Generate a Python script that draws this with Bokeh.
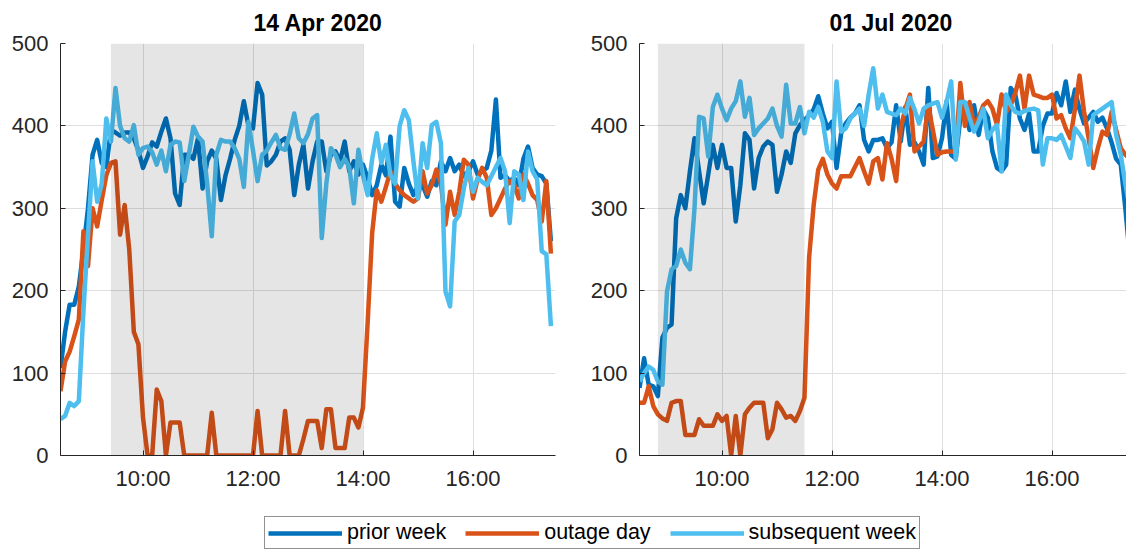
from bokeh.plotting import figure
from bokeh.layouts import column, row
from bokeh.models import FixedTicker, Range1d, Legend, LegendItem, BoxAnnotation
from bokeh.embed import file_html
from bokeh.resources import INLINE

# ---------------- data (5-minute samples from 08:30) ----------------
start_hour = 8.5
step_minutes = 5

apr_prior = [106, 150, 183, 183, 205, 250, 300, 365, 383, 355,
             350, 395, 392, 388, 392, 392, 385, 370, 349, 363,
             380, 375, 393, 409, 385, 318, 304, 365, 365, 360,
             385, 324, 357, 370, 360, 310, 340, 360, 383, 400,
             430, 400, 397, 452, 438, 352, 357, 365, 381, 385,
             371, 316, 353, 377, 324, 357, 381, 381, 345, 365,
             369, 357, 381, 345, 357, 341, 353, 337, 316, 328,
             353, 340, 387, 308, 302, 349, 330, 316, 328, 328,
             314, 333, 328, 357, 345, 361, 345, 353, 339, 345,
             357, 341, 345, 349, 370, 432, 337, 340, 333, 337,
             328, 360, 375, 349, 341, 339, 330, 260]
apr_outage = [78, 114, 126, 145, 165, 272, 230, 300, 278, 310,
              340, 355, 357, 268, 304, 250, 150, 135, 46, 0,
              0, 80, 66, 0, 40, 40, 40, 0, 0, 0,
              0, 0, 0, 52, 0, 0, 0, 0, 0, 0,
              0, 0, 0, 54, 0, 0, 0, 0, 0, 54,
              0, 0, 0, 20, 42, 42, 42, 9, 56, 56,
              9, 9, 9, 46, 46, 34, 58, 160, 270, 322,
              308, 326, 345, 330, 322, 316, 312, 308, 312, 345,
              318, 328, 347, 330, 280, 320, 292, 320, 359, 353,
              312, 335, 349, 337, 292, 300, 312, 324, 333, 328,
              312, 341, 330, 316, 310, 284, 333, 245]
apr_subseq = [44, 48, 64, 60, 66, 175, 268, 357, 308, 330,
              409, 381, 446, 400, 385, 381, 401, 365, 373, 375,
              368, 353, 370, 345, 377, 381, 380, 333, 365, 399,
              387, 381, 330, 266, 365, 383, 381, 381, 373, 360,
              326, 405, 370, 333, 365, 370, 380, 389, 373, 371,
              390, 415, 385, 379, 390, 409, 413, 264, 330, 373,
              365, 350, 360, 350, 306, 371, 340, 316, 360, 391,
              355, 377, 340, 330, 400, 419, 407, 357, 312, 379,
              349, 401, 405, 379, 199, 181, 284, 292, 324, 349,
              320, 337, 332, 328, 339, 350, 361, 345, 282, 345,
              341, 310, 369, 345, 335, 248, 244, 157]

jul_prior = [82, 118, 86, 84, 72, 143, 155, 159, 288, 316,
             300, 345, 385, 345, 306, 341, 377, 349, 377, 349,
             349, 284, 328, 391, 383, 324, 361, 375, 381, 377,
             320, 341, 369, 355, 391, 401, 407, 413, 420, 436,
             415, 397, 405, 349, 391, 403, 410, 415, 425, 383,
             369, 383, 383, 385, 373, 380, 425, 381, 423, 377,
             380, 369, 353, 446, 361, 363, 385, 430, 365, 360,
             410, 420, 395, 425, 389, 420, 410, 369, 349, 345,
             353, 446, 438, 409, 395, 415, 369, 369, 400, 415,
             415, 440, 425, 454, 417, 444, 420, 403, 410, 417,
             405, 410, 397, 380, 360, 353, 300, 240]
jul_outage = [64, 64, 84, 60, 50, 45, 42, 64, 66, 66,
              25, 25, 25, 44, 36, 36, 36, 50, 42, 48,
              0, 48, 0, 50, 58, 64, 64, 64, 21, 32,
              64, 56, 46, 48, 42, 54, 70, 240, 304, 347,
              360, 341, 330, 324, 339, 339, 339, 350, 361, 345,
              330, 357, 361, 335, 379, 360, 333, 397, 421, 438,
              369, 375, 381, 425, 395, 365, 368, 369, 369, 369,
              452, 400, 429, 400, 410, 425, 430, 421, 401, 438,
              417, 425, 440, 461, 421, 461, 438, 436, 434, 434,
              438, 409, 413, 397, 385, 420, 461, 417, 385, 349,
              373, 393, 389, 417, 395, 373, 365, 360]
jul_subseq = [90, 100, 108, 104, 90, 86, 199, 226, 230, 250,
              234, 226, 300, 411, 409, 363, 423, 438, 421, 407,
              421, 430, 454, 411, 434, 389, 397, 403, 409, 421,
              400, 387, 450, 403, 403, 423, 391, 417, 410, 423,
              405, 369, 361, 454, 393, 397, 409, 415, 421, 400,
              438, 470, 421, 438, 417, 415, 413, 421, 415, 434,
              420, 403, 421, 425, 427, 429, 410, 429, 454, 359,
              429, 429, 410, 393, 405, 421, 385, 395, 401, 345,
              438, 425, 417, 415, 418, 420, 421, 419, 353, 385,
              385, 383, 389, 375, 361, 397, 390, 381, 353, 413,
              417, 421, 425, 429, 389, 365, 330, 300]

titles = ["14 Apr 2020", "01 Jul 2020"]
outage_start = [9 + 25 / 60, 8 + 50 / 60]   # shaded outage windows (hours)
outage_end = [14.0, 11.5]
series_names = ["prior week", "outage day", "subsequent week"]
x_tick_hours = [10, 12, 14, 16]
x_tick_labels = ["10:00", "12:00", "14:00", "16:00"]
y_ticks = [0, 100, 200, 300, 400, 500]

times = [start_hour + k * step_minutes / 60 for k in range(len(apr_prior))]

COLORS = ["#0072BD", "#D95319", "#4DBEEE"]
FONT = "Liberation Sans"
AX = "#262626"


def make_panel(title, series, s0, s1, x_end, width, bl, br, title_offset):
    p = figure(width=width, height=494, x_range=Range1d(start_hour, x_end),
               y_range=Range1d(y_ticks[0], y_ticks[-1]),
               output_backend="svg", toolbar_location=None,
               min_border_left=bl, min_border_right=br,
               min_border_top=42, min_border_bottom=39)
    p.outline_line_color = None
    p.background_fill_color = "white"
    p.border_fill_color = "white"
    for vals, c in zip(series, COLORS):
        p.line(times, vals, line_color=c, line_width=4.5, line_join="round")
    p.add_layout(BoxAnnotation(left=s0, right=s1, fill_color="black",
                               fill_alpha=0.1, line_color=None))
    p.xaxis.ticker = FixedTicker(ticks=x_tick_hours)
    p.xaxis.major_label_overrides = dict(zip(x_tick_hours, x_tick_labels))
    p.yaxis.ticker = FixedTicker(ticks=y_ticks)
    for ax in (p.xaxis[0], p.yaxis[0]):
        ax.axis_line_color = AX
        ax.axis_line_width = 1
        ax.major_tick_line_color = AX
        ax.major_tick_in = 5
        ax.major_tick_out = 0
        ax.minor_tick_in = 0
        ax.minor_tick_out = 0
        ax.major_label_text_font = FONT
        ax.major_label_text_font_size = "22px"
        ax.major_label_text_color = AX
    p.yaxis.major_label_standoff = 12
    p.xaxis.major_label_standoff = 10
    p.grid.grid_line_color = "#DFDFDF"
    p.grid.grid_line_width = 1
    p.title.text = title
    p.title.align = "left"
    p.title.text_font = FONT
    p.title.text_font_size = "23px"
    p.title.text_font_style = "bold"
    p.title.text_color = "black"
    p.title.standoff = 15
    p.title.offset = title_offset
    return p


p1 = make_panel(titles[0], [apr_prior, apr_outage, apr_subseq],
                outage_start[0], outage_end[0], 17.5, 575, 60, 20, 193)
p2 = make_panel(titles[1], [jul_prior, jul_outage, jul_subseq],
                outage_start[1], outage_end[1], 17.3545, 551, 64, 0, 190)

# legend strip
pl = figure(width=1126, height=56, x_range=Range1d(0, 1), y_range=Range1d(0, 1),
            output_backend="svg", toolbar_location=None, min_border=0,
            x_axis_type=None, y_axis_type=None)
pl.outline_line_color = None
pl.grid.visible = False
rs = []
for vals, c in zip([apr_prior, apr_outage, apr_subseq], COLORS):
    rs.append(pl.line(times, vals, line_color=c, line_width=4.5))
legend = Legend(items=[LegendItem(label=n, renderers=[r]) for n, r in zip(series_names, rs)],
                orientation="horizontal", location=(264, 1),
                border_line_color=AX, border_line_width=1,
                background_fill_color="white", background_fill_alpha=1.0,
                label_text_font=FONT, label_text_font_size="21.5px",
                label_text_color="black", glyph_width=74, glyph_height=20,
                label_standoff=5, spacing=19, padding=3, margin=0, label_height=20)
pl.add_layout(legend)

layout = column(row(p1, p2), pl)
open("out.html", "w").write(file_html(layout, INLINE))
